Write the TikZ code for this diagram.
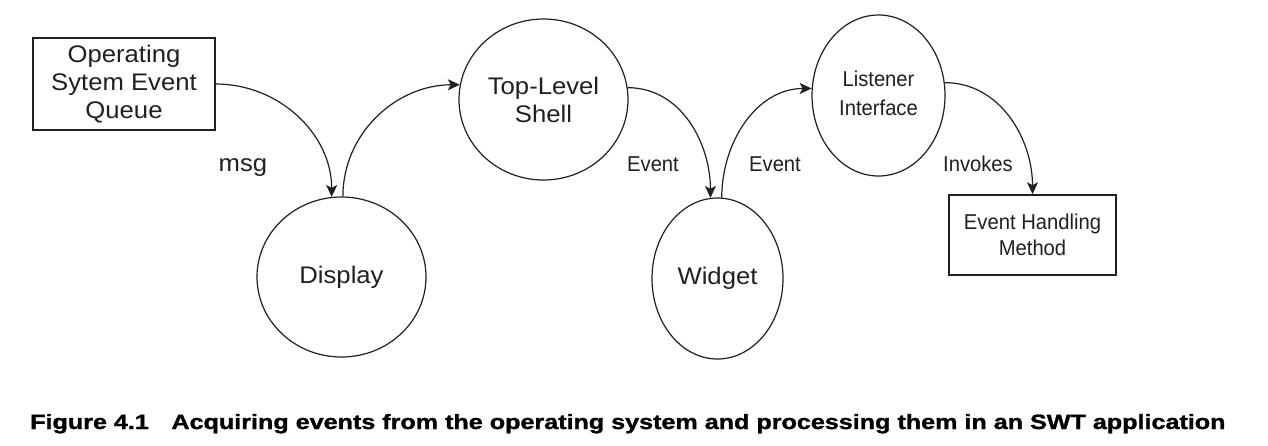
\documentclass[tikz,border=0pt]{standalone}
\usepackage{fontspec}
\setmainfont{Liberation Sans}
\newfontfamily\lfont[FakeStretch=1.07]{Liberation Sans}
\newfontfamily\rfont[FakeStretch=0.94]{Liberation Sans}
\newfontfamily\capfont[FakeBold=1.2]{Liberation Sans}
\usetikzlibrary{shapes.geometric,arrows.meta}
\definecolor{ink}{HTML}{231F20}
\begin{document}
\begin{tikzpicture}[x=1pt,y=1pt,
  lefttext/.style={font=\lfont\fontsize{24}{28}\selectfont, text=ink, align=center},
  righttext/.style={font=\rfont\fontsize{21.5}{26.5}\selectfont, text=ink, align=center},
  boxnode/.style={draw=ink, line width=1.6pt, rectangle, inner sep=0pt},
  ovalnode/.style={draw=ink, line width=1.2pt, ellipse, inner sep=0pt},
  flow/.style={draw=ink, line width=1.2pt, -{Stealth[length=12pt,width=11pt,inset=3pt]}},
  lbl/.style={anchor=base}
]
\useasboundingbox (0,0) rectangle (1268,-445);
\fill[white] (0,0) rectangle (1268,-445);

\node[boxnode, lefttext, minimum width=182pt, minimum height=92pt] (queue) at (124,-84) {Operating\\Sytem Event\\Queue};
\node[ovalnode, lefttext, minimum width=169pt, minimum height=160pt] (disp) at (341.5,-277) {Display};
\node[ovalnode, lefttext, minimum width=169pt, minimum height=161pt] (shell) at (543.5,-99.5) {Top-Level\\Shell};
\node[ovalnode, lefttext, minimum width=131pt, minimum height=161pt] (wid) at (717.5,-278.5) {Widget};
\node[ovalnode, righttext, minimum width=133pt, minimum height=161pt] (lis) at (878.5,-95.5)
  {\raisebox{5pt}{\fontsize{21.5}{29}\selectfont\begin{tabular}{@{}c@{}}Listener\\Interface\end{tabular}}};
\node[boxnode, righttext, minimum width=167pt, minimum height=80pt] (ehm) at (1032.5,-235) {Event Handling\\Method};

\node[lbl, lefttext] (msg) at (243,-171) {msg};
\node[lbl, righttext] (ev1) at (653,-171) {Event};
\node[lbl, righttext] (ev2) at (775,-171) {Event};
\node[lbl, righttext] (inv) at (978,-171) {Invokes};

\draw[flow] (queue.east) to[out=0,in=90] (disp.97);
\draw[flow] (disp.89) to[out=90,in=180] (shell.170);
\draw[flow] (shell.8) to[out=0,in=90] (wid.95);
\draw[flow] (wid.87) to[out=90,in=180] (lis.174);
\draw[flow] (lis.11) to[out=0,in=90] (ehm.north);

\node[anchor=base west, inner sep=0pt] (cap) at (30,-429)
  {\resizebox{1195pt}{15pt}{\capfont\bfseries Figure 4.1\hspace{0.9em}Acquiring events from the operating system and processing them in an SWT application}};
\end{tikzpicture}
\end{document}
